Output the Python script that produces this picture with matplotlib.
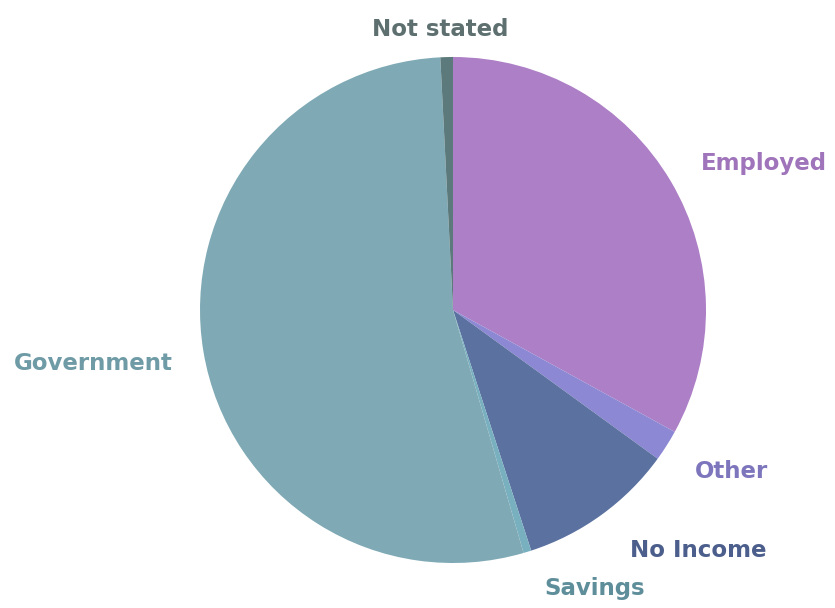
import matplotlib
matplotlib.use('Agg')
import matplotlib.pyplot as plt

# Income source shares (%), clockwise from 12 o'clock
labels = ['Employed', 'Other', 'No Income', 'Savings', 'Government', 'Not stated']
shares = [33.0, 2.0, 10.0, 0.5, 53.7, 0.8]
colors = ['#ad7fc6', '#8c88d4', '#5b71a0', '#78b0c0', '#7faab5', '#5c7a7c']
text_colors = ['#9f74bb', '#7d76bd', '#4c5f8c', '#5f8e9b', '#6f9ba6', '#5e6f70']

# label anchor points in pie units (radius = 1)
label_pos = [(1.23, 0.58), (1.10, -0.64), (0.97, -0.95),
             (0.56, -1.10), (-1.42, -0.21), (-0.05, 1.11)]

fig = plt.figure(figsize=(8.35, 6.08), dpi=100)
ax = fig.add_axes([200 / 835, 45 / 608, 506 / 835, 506 / 608])
ax.pie(shares, colors=colors, startangle=90, counterclock=False,
       radius=1, wedgeprops=dict(linewidth=0))
ax.set_xlim(-1, 1)
ax.set_ylim(-1, 1)
ax.set_aspect('equal')
ax.axis('off')

for lab, (x, y), c in zip(labels, label_pos, text_colors):
    ax.text(x, y, lab, color=c, fontsize=16.5, fontweight='bold',
            ha='center', va='center', clip_on=False)

fig.savefig('out.png', dpi=100)
